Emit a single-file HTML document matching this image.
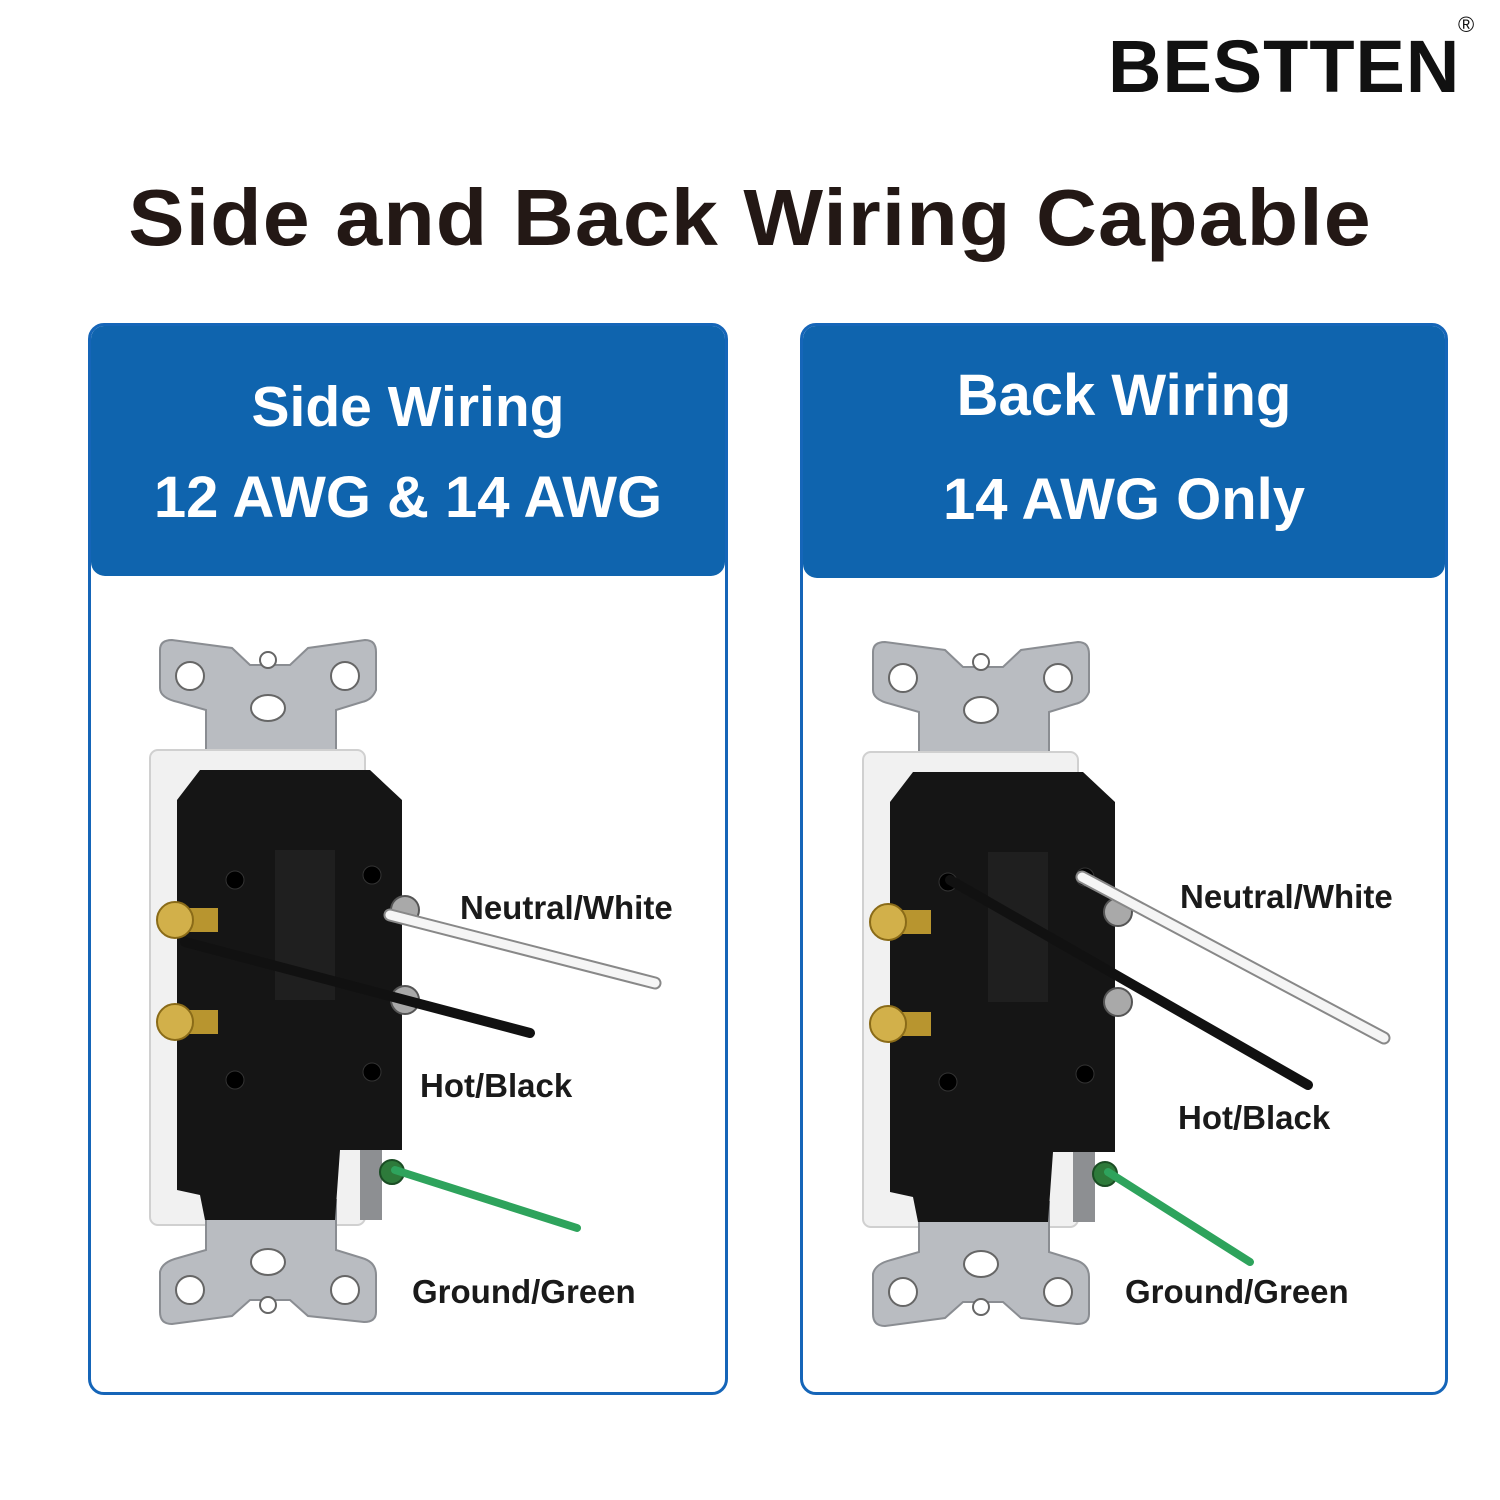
<!DOCTYPE html>
<html><head><meta charset="utf-8"><style>
html,body{margin:0;padding:0;background:#fff;}
body{width:1500px;height:1500px;position:relative;overflow:hidden;font-family:"Liberation Sans",Arial,sans-serif;}
.brand{position:absolute;left:1108px;top:24px;font-size:74px;font-weight:bold;color:#111;letter-spacing:1px;}
.reg{position:absolute;left:1458px;top:12px;font-size:22px;color:#111;}
.title{position:absolute;left:0;width:1500px;top:172px;text-align:center;font-size:80px;font-weight:900;color:#231815;letter-spacing:1px;transform:scaleX(1.055);transform-origin:750px 0;}
.panel{position:absolute;border:3px solid #1565b8;border-radius:16px;background:#fff;overflow:hidden;}
.hdr{position:absolute;left:0;top:0;right:0;background:#0f64ae;border-radius:0 0 14px 14px;}
.ht{position:absolute;left:0;right:0;text-align:center;color:#fff;font-weight:bold;font-size:58px;}
.lbl{position:absolute;font-size:33px;font-weight:bold;color:#1a1a1a;}
svg{position:absolute;left:0;top:0;}
</style></head><body>
<div class="brand">BESTTEN</div><div class="reg">®</div>
<div class="title">Side and Back Wiring Capable</div>

<div class="panel" style="left:88px;top:323px;width:634px;height:1066px;">
 <div class="hdr" style="height:250px;">
  <div class="ht" style="top:48px;font-size:57px;">Side Wiring</div>
  <div class="ht" style="top:138px;">12 AWG &amp; 14 AWG</div>
 </div>
</div>
<div class="panel" style="left:800px;top:323px;width:642px;height:1066px;">
 <div class="hdr" style="height:252px;">
  <div class="ht" style="top:36px;">Back Wiring</div>
  <div class="ht" style="top:140px;">14 AWG Only</div>
 </div>
</div>

<svg width="1500" height="1500" viewBox="0 0 1500 1500">
<defs>
 <g id="dev">
  <path d="M160 650 Q160 640 172 640 L232 648 L250 665 L290 665 L308 648 L365 640 Q376 640 376 652 L376 690 Q372 700 362 702 L336 710 L336 760 L206 760 L206 710 L178 702 Q160 698 160 688 Z" fill="#b9bcc1" stroke="#8a8d92" stroke-width="2"/>
  <circle cx="190" cy="676" r="14" fill="#fff" stroke="#666" stroke-width="2"/>
  <circle cx="345" cy="676" r="14" fill="#fff" stroke="#666" stroke-width="2"/>
  <circle cx="268" cy="660" r="8" fill="#fff" stroke="#666" stroke-width="2"/>
  <ellipse cx="268" cy="708" rx="17" ry="13" fill="#fff" stroke="#666" stroke-width="2"/>
  <rect x="150" y="750" width="215" height="475" rx="8" fill="#f1f1f1" stroke="#d0d0d0" stroke-width="2"/>
  <path d="M206 1200 L336 1200 L336 1250 L362 1258 Q376 1262 376 1275 L376 1312 Q376 1322 364 1322 L308 1316 L290 1300 L250 1300 L232 1316 L172 1324 Q160 1324 160 1312 L160 1272 Q162 1262 178 1258 L206 1250 Z" fill="#b9bcc1" stroke="#8a8d92" stroke-width="2"/>
  <circle cx="190" cy="1290" r="14" fill="#fff" stroke="#666" stroke-width="2"/>
  <circle cx="345" cy="1290" r="14" fill="#fff" stroke="#666" stroke-width="2"/>
  <circle cx="268" cy="1305" r="8" fill="#fff" stroke="#666" stroke-width="2"/>
  <ellipse cx="268" cy="1262" rx="17" ry="13" fill="#fff" stroke="#666" stroke-width="2"/>
  <path d="M200 770 L370 770 L402 800 L402 1150 L340 1150 L335 1220 L205 1220 L200 1195 L177 1190 L177 800 Z" fill="#151515"/>
  <rect x="275" y="850" width="60" height="150" fill="#1f1f1f"/>
  <circle cx="235" cy="880" r="9" fill="#000" stroke="#333"/>
  <circle cx="372" cy="875" r="9" fill="#000" stroke="#333"/>
  <circle cx="235" cy="1080" r="9" fill="#000" stroke="#333"/>
  <circle cx="372" cy="1072" r="9" fill="#000" stroke="#333"/>
  <rect x="178" y="908" width="40" height="24" fill="#b8952f"/>
  <circle cx="175" cy="920" r="18" fill="#d2b04a" stroke="#8a6b18" stroke-width="2"/>
  <rect x="178" y="1010" width="40" height="24" fill="#b8952f"/>
  <circle cx="175" cy="1022" r="18" fill="#d2b04a" stroke="#8a6b18" stroke-width="2"/>
  <circle cx="405" cy="910" r="14" fill="#a9a9a9" stroke="#555" stroke-width="2"/>
  <circle cx="405" cy="1000" r="14" fill="#a9a9a9" stroke="#555" stroke-width="2"/>
  <rect x="360" y="1150" width="22" height="70" fill="#8d8f92"/>
  <circle cx="392" cy="1172" r="12" fill="#2d7a3a" stroke="#1a4d24" stroke-width="2"/>
 </g>
</defs>
<use href="#dev"/>
<use href="#dev" transform="translate(713,2)"/>
<line x1="390" y1="915" x2="655" y2="983" stroke="#888" stroke-width="13" stroke-linecap="round"/>
<line x1="390" y1="915" x2="655" y2="983" stroke="#f5f5f5" stroke-width="9" stroke-linecap="round"/>
<line x1="185" y1="942" x2="530" y2="1033" stroke="#111" stroke-width="10" stroke-linecap="round"/>
<line x1="395" y1="1170" x2="577" y2="1228" stroke="#2ea35c" stroke-width="8" stroke-linecap="round"/>
<line x1="1082" y1="877" x2="1384" y2="1038" stroke="#888" stroke-width="13" stroke-linecap="round"/>
<line x1="1082" y1="877" x2="1384" y2="1038" stroke="#f5f5f5" stroke-width="9" stroke-linecap="round"/>
<line x1="950" y1="880" x2="1308" y2="1085" stroke="#111" stroke-width="10" stroke-linecap="round"/>
<line x1="1108" y1="1172" x2="1250" y2="1262" stroke="#2ea35c" stroke-width="8" stroke-linecap="round"/>
</svg>

<div class="lbl" style="left:460px;top:889px;">Neutral/White</div>
<div class="lbl" style="left:420px;top:1067px;">Hot/Black</div>
<div class="lbl" style="left:412px;top:1273px;">Ground/Green</div>
<div class="lbl" style="left:1180px;top:878px;">Neutral/White</div>
<div class="lbl" style="left:1178px;top:1099px;">Hot/Black</div>
<div class="lbl" style="left:1125px;top:1273px;">Ground/Green</div>
</body></html>
